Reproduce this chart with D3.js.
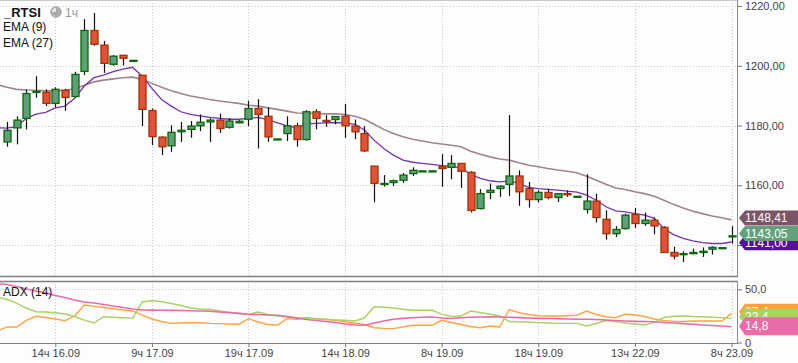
<!DOCTYPE html>
<html>
<head>
<meta charset="utf-8">
<script src="https://cdn.jsdelivr.net/npm/d3@7"></script>
<style>
  html, body { margin: 0; padding: 0; background: #fdfdfd; }
  svg { display: block; font-family: "Liberation Sans", Arial, sans-serif; }
</style>
</head>
<body>
<svg id="chart"></svg>
<script>
// hourly bars, index 0..75
const open = [1174.5,1179.2,1182.4,1191.2,1191.1,1187.4,1191.8,1189.7,1198.1,1211.8,
  1206.9,1200.5,1203.5,1201.6,1196.8,1185.0,1176.1,1173.2,1177.9,1178.7,
  1179.9,1181.2,1181.8,1179.4,1180.9,1182.1,1185.7,1183.1,1175.3,1177.3,
  1179.9,1175.3,1184.6,1181.7,1182.0,1183.1,1179.8,1177.3,1166.4,1160.3,
  1160.9,1161.7,1163.9,1164.7,1164.7,1166.2,1166.0,1167.3,1164.3,1152.2,
  1157.6,1158.9,1160.3,1163.1,1158.9,1155.2,1157.6,1155.9,1157.2,1156.2,
  1151.9,1154.7,1148.6,1143.8,1145.5,1150.2,1147.2,1148.3,1145.9,1137.5,
  1136.8,1137.1,1137.5,1138.6,1138.9,1142.8];
const high = [1181.2,1183.1,1192.1,1196.5,1192.1,1192.8,1192.3,1198.0,1215.6,1217.7,
  1208.3,1203.6,1203.6,1201.9,1196.9,1185.7,1176.4,1180.1,1181.2,1181.5,
  1183.7,1182.4,1184.0,1182.4,1181.8,1188.3,1188.8,1186.1,1175.6,1183.1,
  1180.9,1185.1,1185.4,1183.5,1183.1,1187.2,1182.0,1179.8,1166.4,1163.4,
  1161.9,1164.1,1166.0,1164.9,1164.9,1170.4,1170.1,1167.3,1164.7,1158.7,
  1160.6,1160.0,1183.5,1165.0,1161.1,1158.3,1158.9,1157.4,1158.3,1156.4,
  1163.7,1157.2,1151.6,1146.3,1150.5,1152.4,1150.9,1149.2,1146.3,1139.4,
  1137.9,1138.8,1139.2,1139.6,1139.1,1146.3];
const low = [1172.9,1173.7,1178.7,1189.3,1186.5,1186.1,1184.9,1189.4,1196.9,1206.7,
  1197.6,1200.0,1200.1,1201.5,1179.8,1173.4,1170.1,1171.2,1174.5,1175.9,
  1178.1,1174.5,1177.5,1179.0,1180.7,1179.8,1172.3,1174.5,1175.2,1174.8,
  1172.9,1174.9,1178.7,1179.6,1180.4,1175.9,1175.4,1171.1,1154.3,1159.5,
  1159.7,1160.8,1163.1,1164.6,1164.6,1159.5,1162.0,1159.1,1150.9,1151.9,
  1155.3,1156.1,1156.4,1153.1,1152.5,1154.2,1155.3,1154.4,1156.1,1156.1,
  1150.5,1147.5,1141.8,1142.7,1145.2,1145.7,1146.4,1143.6,1137.3,1135.2,
  1134.3,1136.9,1136.0,1136.8,1138.9,1140.5];
const close = [1178.4,1181.8,1190.7,1191.4,1187.4,1192.1,1189.4,1197.1,1211.8,1207.2,
  1200.8,1203.2,1202.5,1201.8,1185.4,1176.3,1172.9,1177.7,1178.4,1179.8,
  1181.1,1181.8,1179.0,1181.5,1181.4,1185.7,1183.7,1176.2,1175.5,1179.9,
  1175.3,1184.6,1182.4,1181.4,1183.0,1179.9,1177.9,1171.5,1160.6,1160.6,
  1161.5,1163.4,1165.0,1164.8,1164.8,1165.6,1167.3,1164.7,1151.6,1157.2,
  1158.3,1159.7,1163.1,1157.8,1155.2,1157.6,1155.9,1157.2,1156.8,1156.3,
  1154.7,1149.2,1143.8,1145.2,1150.0,1147.2,1148.3,1146.4,1137.5,1136.3,
  1137.1,1137.5,1137.9,1139.2,1139.1,1143.05];

// indicator series start one bar before the first candle (index -1)
const ema9 = [1179.2,1179.1,1179.6,1182.4,1183.8,1184.4,1185.9,1186.5,1189.1,1193.2,1196.0,
  1196.9,1198.0,1198.9,1199.5,1196.5,1192.4,1188.7,1186.5,1184.6,1183.7,
  1183.2,1182.7,1182.4,1182.1,1182.1,1182.4,1182.7,1182.0,1180.9,1179.9,
  1179.2,1180.5,1180.7,1180.9,1181.0,1180.9,1180.4,1178.5,1175.1,1172.3,
  1170.1,1168.4,1167.7,1167.3,1167.0,1166.6,1166.3,1165.8,1163.6,1162.3,
  1161.5,1161.1,1161.4,1160.6,1159.3,1158.9,1158.6,1158.4,1158.0,1157.7,
  1156.7,1155.0,1152.8,1151.4,1151.1,1150.5,1150.0,1148.9,1145.5,1143.5,
  1142.2,1141.4,1140.8,1140.5,1140.5,1141.0];
const ema27 = [1193.7,1192.8,1192.1,1191.9,1191.8,1191.6,1191.6,1191.8,1192.3,1193.5,1194.6,
  1195.2,1195.6,1196.0,1196.2,1195.4,1194.1,1192.8,1191.6,1190.7,1189.9,
  1189.3,1188.7,1188.2,1187.8,1187.4,1186.8,1186.5,1185.9,1185.4,1184.8,
  1184.2,1184.1,1184.0,1183.9,1183.9,1183.7,1183.1,1182.1,1180.4,1178.7,
  1177.3,1176.2,1175.4,1174.8,1174.2,1173.8,1173.4,1172.9,1171.4,1170.4,
  1169.5,1168.8,1168.4,1167.5,1166.7,1166.2,1165.6,1165.1,1164.7,1164.2,
  1163.0,1161.7,1160.3,1159.1,1158.6,1157.8,1157.2,1156.3,1155.0,1153.6,
  1152.4,1151.3,1150.5,1149.7,1149.1,1148.41];

const adx = [55.5,54.5,52.6,50.3,48.4,46.5,44.2,42.3,39.9,38.1,37.1,
  35.7,34.3,32.9,31.5,30.5,30.4,30.3,30.2,30.1,29.9,
  29.6,29.3,28.7,28.0,27.4,26.5,26.3,25.8,25.6,24.4,
  23.0,21.6,20.7,19.7,18.8,17.4,16.4,16.2,18.3,20.2,
  21.8,22.7,23.3,23.7,24.0,23.0,22.6,23.3,23.7,24.0,
  24.2,24.0,23.7,23.4,23.0,22.7,22.6,22.4,22.1,21.8,
  21.8,21.6,21.1,20.7,20.2,19.9,19.7,19.5,18.8,18.3,
  17.7,17.1,16.4,16.0,15.5,14.8];
const diPlus = [42.8,40.4,37.1,32.4,28.9,28.7,28.0,26.8,24.4,21.1,18.3,
  24.2,23.8,23.2,22.7,38.1,39.5,38.3,36.7,34.8,32.4,
  31.5,31.0,29.6,28.4,27.3,26.3,28.7,26.3,24.9,24.0,
  23.3,22.7,22.3,21.9,21.3,20.9,20.2,23.0,33.6,33.1,
  32.4,31.2,30.3,30.3,30.3,26.6,24.4,24.9,29.6,28.2,
  26.5,24.9,19.7,19.5,19.3,18.7,18.3,18.0,18.0,18.0,
  15.5,17.9,20.7,19.7,18.3,17.4,16.4,19.0,23.5,24.7,
  24.9,24.4,24.2,23.8,23.4,22.4];
const diMinus = [10.8,14.6,14.6,20.7,24.6,23.5,22.1,20.5,24.9,35.2,34.0,
  32.9,31.7,30.5,29.6,25.8,22.1,19.7,18.0,18.3,18.6,
  18.6,18.0,17.7,17.4,17.2,22.4,19.3,16.9,16.4,22.6,
  21.8,23.2,22.3,21.6,20.9,19.5,18.1,16.9,13.9,13.3,
  13.0,14.6,16.2,16.2,16.2,20.9,18.8,16.9,15.0,13.9,
  15.5,14.6,31.0,28.0,26.3,25.1,24.9,24.9,25.2,25.6,
  29.6,26.3,24.2,23.3,26.5,25.8,24.4,22.1,20.7,19.9,
  19.7,20.2,20.2,20.2,20.2,27.4];

const priceTicks = [1140, 1160, 1180, 1200, 1220];
const timeTickIdx = [5, 15, 25, 35, 45, 55, 65, 75];
const timeLabels = ["14ч 16.09", "9ч 17.09", "19ч 17.09", "14ч 18.09",
  "8ч 19.09", "18ч 19.09", "13ч 22.09", "8ч 23.09"];

function drawChart() {
  const width = 798;
  const height = 363;
  const plotRight = 737;
  const mainTop = 0, mainBottom = 276;
  const adxTop = 281, adxBottom = 343;

  const svg = d3.select("#chart").attr("width", width).attr("height", height);
  svg.append("rect").attr("width", width).attr("height", height).attr("fill", "#fdfdfd");

  const x = d3.scaleLinear([0, 75], [7, 731.5]);
  const y = d3.scaleLinear([1140, 1220], [245, 6]);
  const ya = d3.scaleLinear([0, 50], [342.5, 289.3]);

  const defs = svg.append("defs");
  defs.append("clipPath").attr("id", "clipMain").append("rect")
    .attr("x", 0).attr("y", mainTop).attr("width", plotRight).attr("height", mainBottom - mainTop);
  defs.append("clipPath").attr("id", "clipAdx").append("rect")
    .attr("x", 0).attr("y", adxTop).attr("width", plotRight).attr("height", adxBottom - adxTop);

  // grid
  const grid = svg.append("g").attr("stroke", "#c9c9c9").attr("stroke-dasharray", "1,2");
  grid.selectAll(".vg").data(timeTickIdx).enter().append("line")
    .attr("x1", d => Math.round(x(d)) + 0.5).attr("x2", d => Math.round(x(d)) + 0.5)
    .attr("y1", mainTop).attr("y2", mainBottom);
  grid.selectAll(".vga").data(timeTickIdx).enter().append("line")
    .attr("x1", d => Math.round(x(d)) + 0.5).attr("x2", d => Math.round(x(d)) + 0.5)
    .attr("y1", adxTop).attr("y2", adxBottom);
  grid.selectAll(".hg").data(priceTicks).enter().append("line")
    .attr("x1", 0).attr("x2", plotRight)
    .attr("y1", d => Math.round(y(d)) + 0.5).attr("y2", d => Math.round(y(d)) + 0.5);
  grid.append("line").attr("x1", 0).attr("x2", plotRight)
    .attr("y1", Math.round(ya(50)) + 0.5).attr("y2", Math.round(ya(50)) + 0.5);

  // EMA lines
  const emaLine = d3.line().x((d, i) => x(i - 1)).y(d => y(d));
  const gMain = svg.append("g").attr("clip-path", "url(#clipMain)");
  gMain.append("path").datum(ema27).attr("d", emaLine)
    .attr("fill", "none").attr("stroke", "#a08490").attr("stroke-width", 1.6);
  gMain.append("path").datum(ema9).attr("d", emaLine)
    .attr("fill", "none").attr("stroke", "#7434ae").attr("stroke-width", 1.3);

  // candles
  const bars = d3.range(open.length);
  gMain.selectAll(".wick").data(bars).enter().append("line")
    .attr("x1", i => Math.round(x(i)) + 0.5).attr("x2", i => Math.round(x(i)) + 0.5)
    .attr("y1", i => y(high[i])).attr("y2", i => y(low[i]))
    .attr("stroke", "#111").attr("stroke-width", 1.2);
  gMain.selectAll(".body").data(bars).enter().append("rect")
    .attr("x", i => Math.round(x(i)) - 3)
    .attr("y", i => y(Math.max(open[i], close[i])))
    .attr("width", 7)
    .attr("height", i => Math.max(1, Math.abs(y(open[i]) - y(close[i]))))
    .attr("fill", i => close[i] >= open[i] ? "#5f9e77" : "#de533b")
    .attr("stroke", i => close[i] >= open[i] ? "#0a680a" : "#a43200")
    .attr("stroke-width", 1.3);

  // ADX panel lines
  const adxLine = d3.line().x((d, i) => x(i - 1)).y(d => ya(d));
  const gAdx = svg.append("g").attr("clip-path", "url(#clipAdx)");
  gAdx.append("path").datum(diMinus).attr("d", adxLine)
    .attr("fill", "none").attr("stroke", "#ffa440").attr("stroke-width", 1.4);
  gAdx.append("path").datum(diPlus).attr("d", adxLine)
    .attr("fill", "none").attr("stroke", "#a9d263").attr("stroke-width", 1.4);
  gAdx.append("path").datum(adx).attr("d", adxLine)
    .attr("fill", "none").attr("stroke", "#ea6aa8").attr("stroke-width", 1.6);

  // panel borders
  const frame = svg.append("g").attr("fill", "none");
  frame.append("line").attr("x1", 0).attr("x2", plotRight).attr("y1", 0.5).attr("y2", 0.5).attr("stroke", "#c8c8c8");
  frame.append("line").attr("x1", 0).attr("x2", plotRight + 1).attr("y1", mainBottom + 0.5).attr("y2", mainBottom + 0.5).attr("stroke", "#808080").attr("stroke-width", 1.5);
  frame.append("line").attr("x1", plotRight + 0.5).attr("x2", plotRight + 0.5).attr("y1", 0).attr("y2", mainBottom).attr("stroke", "#8c8c8c");
  frame.append("line").attr("x1", 0).attr("x2", plotRight + 1).attr("y1", adxTop + 0.5).attr("y2", adxTop + 0.5).attr("stroke", "#808080").attr("stroke-width", 1.5);
  frame.append("line").attr("x1", plotRight + 0.5).attr("x2", plotRight + 0.5).attr("y1", adxTop).attr("y2", adxBottom).attr("stroke", "#8c8c8c");
  frame.append("line").attr("x1", 0).attr("x2", plotRight + 1).attr("y1", adxBottom + 0.5).attr("y2", adxBottom + 0.5).attr("stroke", "#808080").attr("stroke-width", 1.2);

  // axes
  const fmt2 = d => d.toFixed(2).replace(".", ",");
  const yAxis = svg.append("g").attr("transform", `translate(${plotRight},0)`)
    .call(d3.axisRight(y).tickValues(priceTicks).tickFormat(fmt2).tickSize(5).tickPadding(3));
  const yaAxis = svg.append("g").attr("transform", `translate(${plotRight},0)`)
    .call(d3.axisRight(ya).tickValues([0, 50]).tickFormat(d => d === 0 ? "0" : d.toFixed(1).replace(".", ",")).tickSize(5).tickPadding(3));
  const xAxis = svg.append("g").attr("transform", `translate(0,${adxBottom})`)
    .call(d3.axisBottom(x).tickValues(timeTickIdx).tickFormat((d, i) => timeLabels[i]).tickSize(4).tickPadding(2));
  [yAxis, yaAxis, xAxis].forEach(g => {
    g.select(".domain").remove();
    g.selectAll(".tick line").attr("stroke", "#777");
    g.selectAll(".tick text").attr("fill", "#444").attr("font-size", 11)
      .attr("font-family", "'Liberation Sans', Arial, sans-serif");
  });

  // value tags on the right (stacked, later ones cover earlier ones)
  function tag(value, scale, color, label, dy, h) {
    const cy = scale(value) + dy;
    const g = svg.append("g");
    g.append("path")
      .attr("d", `M${plotRight + 2},${cy} L${plotRight + 8},${cy - h / 2} L${width},${cy - h / 2} L${width},${cy + h / 2} L${plotRight + 8},${cy + h / 2} Z`)
      .attr("fill", color);
    g.append("text").attr("x", plotRight + 8).attr("y", cy + 4)
      .attr("fill", "#fff").attr("font-size", 12).text(label);
  }
  const fmtTag = v => v.toFixed(2).replace(".", ",");
  tag(ema9[ema9.length - 1], y, "#55109c", fmtTag(ema9[ema9.length - 1]), 0.8, 15);
  tag(ema27[ema27.length - 1], y, "#7c5467", fmtTag(ema27[ema27.length - 1]), -2, 15);
  tag(close[close.length - 1], y, "#63a07c", fmtTag(close[close.length - 1]), -2.3, 15);

  const fmt1 = v => v.toFixed(1).replace(".", ",");
  tag(diMinus[diMinus.length - 1], ya, "#ffa23a", fmt1(diMinus[diMinus.length - 1]), -1.5, 16);
  tag(diPlus[diPlus.length - 1], ya, "#aad35e", fmt1(diPlus[diPlus.length - 1]), -2, 16);
  tag(adx[adx.length - 1], ya, "#e96ca8", fmt1(adx[adx.length - 1]), -0.5, 18);

  // legend
  const leg = svg.append("g").attr("fill", "#111");
  leg.append("text").attr("x", 4).attr("y", 17).attr("font-size", 13).attr("font-weight", "bold").text("_RTSI");
  const clock = leg.append("g").attr("transform", "translate(56,12)");
  clock.append("circle").attr("r", 5).attr("fill", "#e6e6e6").attr("stroke", "#a8a8a8").attr("stroke-width", 1.6);
  clock.append("path").attr("d", d3.arc()({ innerRadius: 0, outerRadius: 4, startAngle: 0, endAngle: Math.PI * 1.5 })).attr("fill", "#a8a8a8");
  leg.append("text").attr("x", 65).attr("y", 17).attr("font-size", 12).attr("fill", "#999").text("1ч");
  leg.append("text").attr("x", 3).attr("y", 31).attr("font-size", 12).text("EMA (9)");
  leg.append("text").attr("x", 3).attr("y", 47).attr("font-size", 12).text("EMA (27)");
  svg.append("text").attr("x", 3).attr("y", 296).attr("font-size", 12).attr("fill", "#111").text("ADX (14)");
}

drawChart();
</script>
</body>
</html>
